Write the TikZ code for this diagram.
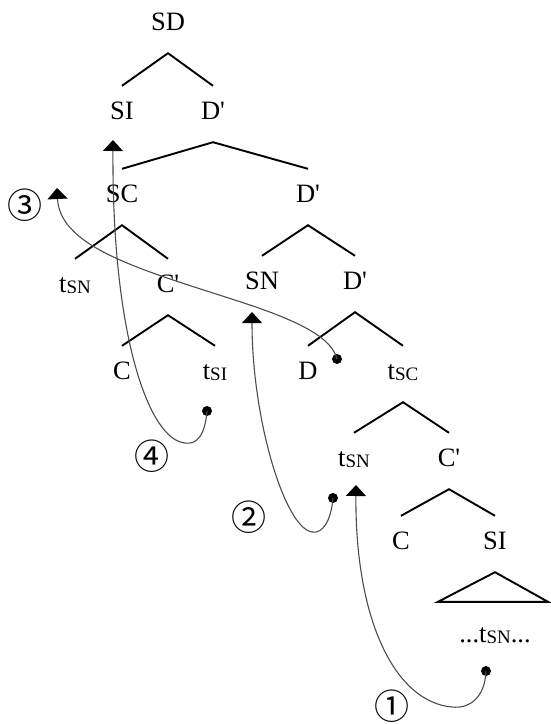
\documentclass[tikz,border=0pt]{standalone}
\usepackage{fontspec}
\setmainfont{Liberation Serif}[Ligatures=TeXOff]
\newfontfamily\circfont{Noto Sans CJK JP}
\usetikzlibrary{arrows.meta}
\newcommand\subsc[1]{\raisebox{-1pt}{\fontsize{19}{19}\selectfont #1}}
\begin{document}
\begin{tikzpicture}[x=1pt,y=-1pt,
  lab/.style={inner sep=0pt, text height=33pt, text depth=23pt, anchor=base,
    font=\fontsize{26.5}{26.5}\selectfont},
  branch/.style={line width=1.9pt},
  mv/.style={line width=1.1pt, draw=black!70,
    -{Triangle[width=20pt,length=11pt,color=black]}},
  dotp/.style={circle, fill=black, inner sep=0pt, minimum size=10pt},
  num/.style={font=\circfont\fontsize{35}{35}\selectfont, inner sep=0pt}]
\useasboundingbox (0,0) rectangle (550,724);
% labels
\node[lab] (sd)   at (168,30)  {SD};
\node[lab] (si1)  at (122,119) {SI};
\node[lab] (dp1)  at (213,119) {D'};
\node[lab] (sc)   at (122,202) {SC};
\node[lab] (dp2)  at (308,202) {D'};
\node[lab] (tsn1) at (75,292)  {t\subsc{SN}};
\node[lab] (cp1)  at (168,292) {C'};
\node[lab] (sn)   at (262,289) {SN};
\node[lab] (dp3)  at (355,289) {D'};
\node[lab] (c1)   at (122,379) {C};
\node[lab] (tsi)  at (215,379) {t\subsc{SI}};
\node[lab] (d)    at (308,379) {D};
\node[lab] (tsc)  at (403,379) {t\subsc{SC}};
\node[lab] (tsn2) at (354,466) {t\subsc{SN}};
\node[lab] (cp2)  at (449,466) {C'};
\node[lab] (c2)   at (401,549) {C};
\node[lab] (si2)  at (495,549) {SI};
\node[lab] (bot)  at (495,642) {...t\subsc{SN}...};
% branches
\draw[branch] (si1.north) -- (sd.south) -- (dp1.north);
\draw[branch] (sc.north) -- (dp1.south) -- (dp2.north);
\draw[branch] (tsn1.north) -- (sc.south) -- (cp1.north);
\draw[branch] (sn.north) -- (dp2.south) -- (dp3.north);
\draw[branch] (c1.north) -- (cp1.south) -- (tsi.north);
\draw[branch] (d.north) -- (dp3.south) -- (tsc.north);
\draw[branch] (tsn2.north) -- (tsc.south) -- (cp2.north);
\draw[branch] (c2.north) -- (cp2.south) -- (si2.north);
\draw[branch] (si2.south) -- ([shift={(-57,-7)}]bot.north) -- ([shift={(53,-7)}]bot.north) -- cycle;
% movement arrows
\node[dotp] (m1) at (486,671) {};
\node[dotp] (m2) at (333,498) {};
\node[dotp] (m3) at (337,359) {};
\node[dotp] (m4) at (207,411) {};
\coordinate (e1) at (356,485);
\coordinate (e2) at (252,312);
\coordinate (e3) at (57,188);
\coordinate (e4) at (113,140);
\draw[mv] (m1.center) .. controls (485,697) and (470,709) .. (452,707)
  .. controls (395,702) and (355,620) .. (e1);
\draw[mv] (m2.center) .. controls (331,522) and (322,534) .. (312,532)
  .. controls (285,528) and (252,420) .. (e2);
\draw[mv] (m3.center) .. controls (332,338) and (300,322) .. (250,305)
  .. controls (150,272) and (60,250) .. (e3);
\draw[mv] (m4.center) .. controls (205,435) and (197,445) .. (185,443)
  .. controls (150,440) and (112,340) .. (e4);
% step numbers
\node[num] (n1) at (392,706) {①};
\node[num] (n2) at (249,517) {②};
\node[num] (n3) at (25,205)  {③};
\node[num] (n4) at (152,456) {④};
\end{tikzpicture}
\end{document}
